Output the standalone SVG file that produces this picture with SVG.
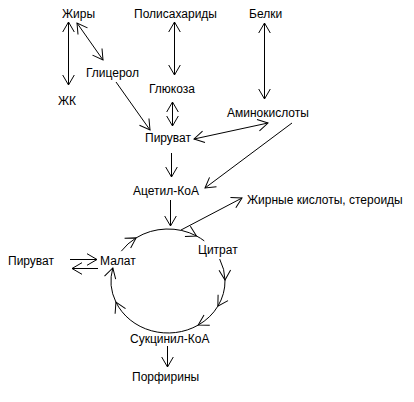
<svg xmlns="http://www.w3.org/2000/svg" width="414" height="402" viewBox="0 0 414 402">
<defs>
<marker id="ah" viewBox="-12 -7 13 14" markerWidth="13" markerHeight="14" refX="0" refY="0" orient="auto-start-reverse" markerUnits="userSpaceOnUse">
<path d="M-10,-5.8 L0,0 L-10,5.8" fill="none" stroke="#000" stroke-width="1"/>
</marker>
<style>
text{font-family:"Liberation Sans",Arial,sans-serif;font-size:12px;fill:#000}
.c line,.c path{stroke:#000;stroke-width:1;fill:none}
.one{marker-end:url(#ah)}
.two{marker-start:url(#ah);marker-end:url(#ah)}
</style>
</defs>
<rect width="414" height="402" fill="#fff"/>
<g id="n-zhiry"><text x="62" y="18">Жиры</text></g>
<g id="n-polisakharidy"><text x="134" y="18">Полисахариды</text></g>
<g id="n-belki"><text x="249" y="18">Белки</text></g>
<g id="n-glitserol"><text x="86" y="77">Глицерол</text></g>
<g id="n-zhk"><text x="58" y="105">ЖК</text></g>
<g id="n-glyukoza"><text x="149" y="93">Глюкоза</text></g>
<g id="n-aminokisloty"><text x="227" y="117">Аминокислоты</text></g>
<g id="n-piruvat"><text x="145" y="142">Пируват</text></g>
<g id="n-atsetil"><text x="133" y="195">Ацетил-КоА</text></g>
<g id="n-zhirnye"><text x="247" y="204">Жирные кислоты, стероиды</text></g>
<g id="n-tsitrat"><text x="198" y="254">Цитрат</text></g>
<g id="n-malat"><text x="100" y="265">Малат</text></g>
<g id="n-piruvat2"><text x="8" y="265">Пируват</text></g>
<g id="n-suktsinil"><text x="130" y="343">Сукцинил-КоА</text></g>
<g id="n-porfiriny"><text x="132" y="381">Порфирины</text></g>
<g id="connectors" class="c">
<line class="two" x1="68.5" y1="22" x2="68.5" y2="85"/>
<line class="two" x1="77" y1="23" x2="103" y2="60"/>
<line class="two" x1="174.5" y1="22" x2="174.5" y2="75"/>
<line class="two" x1="172.5" y1="102" x2="172.5" y2="126"/>
<line class="one" x1="116" y1="82" x2="150" y2="130"/>
<line class="two" x1="264.5" y1="23" x2="264.5" y2="99"/>
<line class="two" x1="194" y1="139" x2="268" y2="123"/>
<line class="one" x1="292" y1="123" x2="205" y2="188"/>
<line class="one" x1="171.5" y1="153" x2="171.5" y2="177"/>
<line class="one" x1="170.5" y1="200" x2="170.5" y2="226"/>
<line class="one" x1="181" y1="230" x2="242" y2="198"/>
<line class="one" x1="70" y1="259.5" x2="97" y2="259.5"/>
<line class="one" x1="98" y1="268.5" x2="72" y2="268.5"/>
<path class="one" d="M121.31,251.17 A57,52 0 0 1 136.13,237.89"/>
<path class="one" d="M136.13,237.89 A57,52 0 0 1 196.5,235.97"/>
<path d="M196.5,235.97 A57,52 0 0 1 204.26,240.88"/>
<path class="one" d="M219.66,259.02 A57,52 0 0 1 225,280.1"/>
<path class="one" d="M225,280.1 A57,52 0 0 1 217.85,306.21"/>
<path class="one" d="M217.85,306.21 A57,52 0 0 1 198.2,325.1"/>
<path class="one" d="M198.2,325.1 A57,52 0 0 1 115.93,302.15"/>
<path class="one" d="M115.93,302.15 A57,52 0 0 1 112.82,267.98"/>
<line class="one" x1="167.5" y1="346" x2="167.5" y2="367"/>
</g>
</svg>
